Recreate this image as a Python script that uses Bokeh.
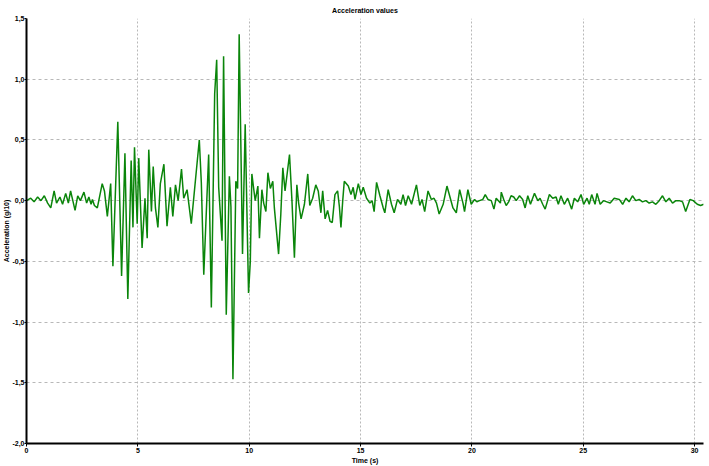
from bokeh.plotting import figure
from bokeh.models import FixedTicker, CustomJSTickFormatter, Range1d, Title
from bokeh.embed import file_html
from bokeh.resources import INLINE

# Time (s) of each read peak / trough
time_s = [0.00, 0.19, 0.34, 0.50, 0.65, 0.80, 0.95, 1.09, 1.24, 1.35, 1.50, 1.62, 1.76, 1.88, 1.98,
          2.08, 2.18, 2.30, 2.42, 2.58, 2.70, 2.80, 2.90, 2.96, 3.05, 3.18, 3.40, 3.50, 3.63, 3.78,
          3.88, 4.10, 4.27, 4.42, 4.55, 4.70, 4.78, 4.85, 4.97, 5.04, 5.19, 5.32, 5.42, 5.49, 5.61,
          5.69, 5.79, 5.90, 6.01, 6.17, 6.31, 6.46, 6.57, 6.69, 6.81, 6.96, 7.06, 7.21, 7.40, 7.66,
          7.76, 7.85, 7.96, 8.18, 8.30, 8.45, 8.54, 8.63, 8.78, 8.85, 8.97, 9.11, 9.18, 9.27, 9.40,
          9.48, 9.55, 9.70, 9.82, 9.97, 10.05, 10.12, 10.20, 10.27, 10.39, 10.46, 10.57, 10.65, 10.75,
          10.84, 10.95, 11.06, 11.13, 11.32, 11.42, 11.51, 11.61, 11.81, 11.92, 12.03, 12.14, 12.22,
          12.33, 12.48, 12.63, 12.72, 12.85, 12.99, 13.10, 13.22, 13.30, 13.41, 13.52, 13.63, 13.73,
          13.85, 13.97, 14.05, 14.12, 14.20, 14.27, 14.45, 14.57, 14.67, 14.75, 14.90, 15.02, 15.12,
          15.27, 15.42, 15.52, 15.61, 15.72, 15.87, 16.02, 16.09, 16.24, 16.39, 16.51, 16.66, 16.81,
          16.91, 17.02, 17.14, 17.29, 17.51, 17.66, 17.76, 17.88, 18.03, 18.18, 18.30, 18.41, 18.53,
          18.71, 18.88, 19.00, 19.15, 19.30, 19.45, 19.60, 19.67, 19.82, 19.97, 20.12, 20.22, 20.34,
          20.49, 20.60, 20.72, 20.87, 20.99, 21.09, 21.28, 21.32, 21.43, 21.54, 21.65, 21.76, 21.88,
          21.99, 22.14, 22.28, 22.39, 22.51, 22.63, 22.81, 22.96, 23.06, 23.18, 23.29, 23.48, 23.63,
          23.78, 23.88, 24.00, 24.15, 24.30, 24.48, 24.60, 24.75, 24.90, 25.02, 25.17, 25.27, 25.38,
          25.53, 25.62, 25.76, 25.91, 26.06, 26.21, 26.39, 26.62, 26.77, 26.92, 27.06, 27.21, 27.36,
          27.51, 27.66, 27.81, 27.96, 28.11, 28.26, 28.41, 28.56, 28.71, 28.86, 29.01, 29.16, 29.31,
          29.46, 29.60, 29.79, 29.94, 30.12, 30.27, 30.41]

# Acceleration (g/10)
accel = [0.00, 0.02, -0.01, 0.03, 0.00, 0.04, -0.02, -0.06, 0.08, -0.02, 0.03, -0.03, 0.06, -0.02, 0.08,
         0.00, -0.08, 0.04, 0.00, 0.07, -0.02, 0.03, -0.03, 0.01, -0.04, -0.06, 0.14, 0.08, -0.13, 0.14,
         -0.54, 0.65, -0.62, 0.39, -0.81, 0.33, -0.22, 0.44, -0.19, 0.35, -0.39, 0.02, -0.31, 0.42, -0.09,
         0.28, -0.06, -0.22, 0.14, 0.30, -0.21, 0.11, -0.13, 0.13, 0.00, 0.26, 0.02, 0.09, -0.19, 0.31,
         0.50, 0.15, -0.61, 0.38, -0.88, 0.88, 1.16, 0.11, -0.33, 1.19, -0.94, 0.20, -0.05, -1.47, 0.16,
         0.10, 1.37, -0.44, 0.63, -0.76, -0.50, 0.22, 0.10, 0.00, 0.12, -0.31, 0.09, -0.02, -0.09,
         0.23, 0.10, 0.16, -0.06, -0.44, -0.11, 0.27, 0.08, 0.38, 0.00, -0.47, 0.13, -0.02,
         -0.15, -0.03, 0.22, -0.04, 0.02, 0.13, 0.08, -0.10, 0.08, -0.15, -0.08, -0.17, -0.18,
         0.05, 0.08, -0.05, -0.22, 0.00, 0.16, 0.12, 0.05, 0.11, 0.01, 0.14, 0.05, 0.11,
         0.02, -0.02, 0.00, -0.09, 0.15, 0.04, -0.06, -0.10, 0.09, -0.03, -0.10, 0.01, -0.03,
         0.05, -0.04, 0.04, -0.03, 0.13, -0.04, 0.01, -0.09, 0.08, 0.01, 0.02, -0.02, -0.11,
         -0.03, 0.12, 0.04, -0.06, -0.10, 0.09, -0.02, -0.09, 0.09, -0.03, 0.01, -0.01, 0.00,
         0.01, 0.05, 0.01, 0.00, -0.07, 0.02, -0.02, 0.07, 0.01, -0.04, -0.01, 0.04, 0.03,
         0.00, 0.04, 0.01, -0.06, 0.04, -0.03, 0.06, 0.00, 0.02, -0.03, -0.07, 0.05, 0.02,
         0.03, -0.03, 0.04, -0.03, 0.02, -0.07, 0.02, -0.01, 0.05, -0.03, 0.02, -0.03, 0.05,
         -0.03, 0.06, -0.03, 0.00, -0.01, -0.02, 0.02, 0.01, -0.03, 0.02, -0.01, 0.04, 0.00,
         0.01, -0.01, 0.00, -0.02, -0.01, -0.03, 0.00, 0.04, -0.01, 0.02, -0.02, 0.00, 0.00,
         -0.01, -0.09, 0.01, 0.00, -0.03, -0.04, -0.03]

x_ticks = [0, 5, 10, 15, 20, 25, 30]
y_ticks = [-2.0, -1.5, -1.0, -0.5, 0.0, 0.5, 1.0, 1.5]

FONT = "Liberation Sans"

p = figure(width=709, height=466, output_backend="svg", toolbar_location=None,
           x_range=Range1d(0, 30.4), y_range=Range1d(-2.0, 1.5),
           title="Acceleration values", min_border=0,
           min_border_left=24, min_border_right=6, min_border_top=18, min_border_bottom=0)

p.title.align = "center"
p.title.text_font = FONT
p.title.text_font_size = "7px"
p.title.text_font_style = "bold"
p.title.text_color = "black"
p.title.standoff = 9
p.title.offset = 0

p.line(time_s, accel, line_color="#0a850a", line_width=1.5)

p.outline_line_color = None
p.background_fill_color = "white"
p.border_fill_color = "white"

for ax in (p.xaxis[0], p.yaxis[0]):
    ax.axis_line_color = "black"
    ax.axis_line_width = 2
    ax.major_tick_in = 0
    ax.major_tick_out = 3
    ax.major_tick_line_color = "black"
    ax.minor_tick_line_color = None
    ax.major_label_text_font = FONT
    ax.major_label_text_font_size = "7px"
    ax.major_label_text_font_style = "bold"
    ax.major_label_text_color = "black"
    ax.axis_label_text_font = FONT
    ax.axis_label_text_font_size = "7px"
    ax.axis_label_text_font_style = "bold"
    ax.axis_label_text_color = "black"
    ax.major_label_standoff = 1
    ax.axis_label_standoff = 1

p.yaxis[0].major_label_standoff = 0
p.yaxis[0].major_tick_out = 2

p.xaxis[0].ticker = FixedTicker(ticks=x_ticks)
p.yaxis[0].ticker = FixedTicker(ticks=y_ticks)
p.xaxis[0].axis_label = "Time (s)"
p.xaxis[0].formatter = CustomJSTickFormatter(code="return tick.toFixed(0);")
p.yaxis[0].formatter = CustomJSTickFormatter(code="return tick.toFixed(1).replace('.', ',');")

ytitle = Title(text="Acceleration (g/10)", align="center", text_font=FONT,
               text_font_size="7px", text_font_style="bold", text_color="black",
               standoff=0, offset=0)
p.add_layout(ytitle, "left")

p.xgrid[0].ticker = FixedTicker(ticks=x_ticks)
p.ygrid[0].ticker = FixedTicker(ticks=y_ticks)
p.xgrid.grid_line_color = "#b8b8b8"
p.xgrid.grid_line_dash = "2 2"
p.ygrid.grid_line_color = "#b8b8b8"
p.ygrid.grid_line_dash = "3 3"

open("out.html", "w").write(file_html(p, INLINE))
